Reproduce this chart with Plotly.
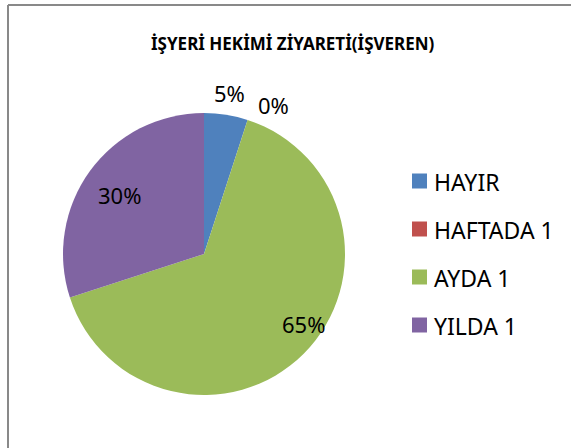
import math
import plotly.graph_objects as go

labels = ["HAYIR", "HAFTADA 1", "AYDA 1", "YILDA 1"]
values = [5, 0, 65, 30]
colors = ["#4F81BD", "#C0504D", "#9BBB59", "#8064A2"]
title_text = "İŞYERİ HEKİMİ ZİYARETİ(İŞVEREN)"

# layout / style settings
W, H = 571, 448
FONT = "Noto Sans"
CX, CY, R = 204, 254, 141           # pie centre and radius in pixels
label_radius = [1.155, 1.165, 0.86, 0.73]   # label distance (fraction of radius)
label_shift = [0, 7, -10, -1]               # angular nudge (deg) like Excel best-fit


def px(x):
    return x / W


def py(y):
    return 1 - y / H


fig = go.Figure()
fig.add_trace(go.Pie(
    labels=labels, values=values, sort=False, direction="clockwise", rotation=0,
    marker=dict(colors=colors, line=dict(width=0)),
    textinfo="none",
    domain=dict(x=[px(CX - R), px(CX + R)], y=[py(CY + R), py(CY - R)]),
    showlegend=False, hoverinfo="label+percent",
))

shapes = [
    dict(type="line", xref="paper", yref="paper", x0=px(8), x1=1.0, y0=py(5), y1=py(5),
         line=dict(color="#898989", width=2)),
    dict(type="line", xref="paper", yref="paper", x0=px(8), x1=px(8), y0=0, y1=py(5),
         line=dict(color="#898989", width=2)),
]
annotations = [dict(text="<b>" + title_text + "</b>", xref="paper", yref="paper",
                    x=px(293), y=py(43), showarrow=False, xanchor="center", yanchor="middle",
                    font=dict(family=FONT, size=17, color="#000000"))]

# data labels placed from cumulative slice angles
total = sum(values)
cum = 0
for i, v in enumerate(values):
    mid = (cum + v / 2) / total * 360 + label_shift[i]
    cum += v
    rr = R * label_radius[i]
    x = CX + rr * math.sin(math.radians(mid))
    y = CY - rr * math.cos(math.radians(mid))
    annotations.append(dict(text=f"{round(100 * v / total)}%", xref="paper", yref="paper",
                            x=px(x), y=py(y), showarrow=False, xanchor="center", yanchor="middle",
                            font=dict(family=FONT, size=22, color="#000000")))

# legend built from the data arrays
for i, (lab, col) in enumerate(zip(labels, colors)):
    yc = 181 + 48 * i
    shapes.append(dict(type="rect", xref="paper", yref="paper",
                       x0=px(412), x1=px(427), y0=py(yc + 7.5), y1=py(yc - 7.5),
                       fillcolor=col, line=dict(width=0)))
    annotations.append(dict(text=lab, xref="paper", yref="paper", x=px(432), y=py(yc + 1),
                            showarrow=False, xanchor="left", yanchor="middle",
                            font=dict(family=FONT, size=23, color="#000000")))

fig.update_layout(
    width=W, height=H, margin=dict(l=0, r=0, t=0, b=0),
    paper_bgcolor="white", plot_bgcolor="white",
    shapes=shapes, annotations=annotations, showlegend=False,
)
fig.write_html("out.html", config={"displayModeBar": False},
               post_script="document.body.style.margin='0px';")
